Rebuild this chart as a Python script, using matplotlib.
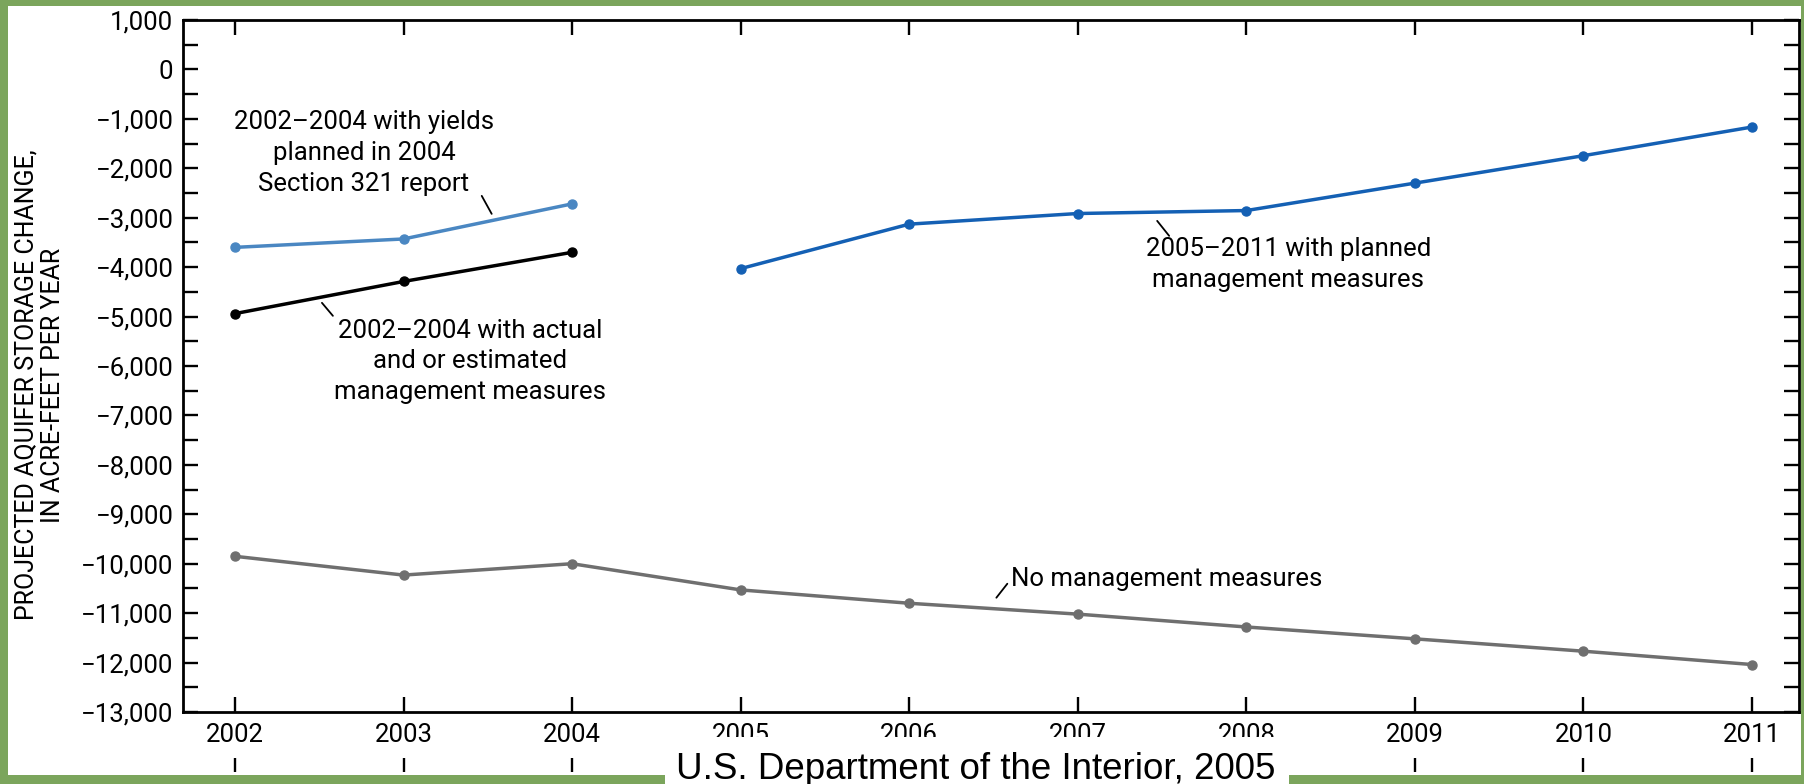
import matplotlib
matplotlib.use("Agg")
import matplotlib.pyplot as plt
from matplotlib.patches import Rectangle
from matplotlib.ticker import FuncFormatter, MultipleLocator

# data (acre-feet per year)
years_early = [2002, 2003, 2004]
years_late = [2005, 2006, 2007, 2008, 2009, 2010, 2011]
years_all = years_early + years_late

yields_planned = [-3600, -3430, -2720]
actual_estimated = [-4940, -4290, -3700]
planned_measures = [-4030, -3130, -2915, -2855, -2300, -1745, -1165]
no_measures = [-9850, -10230, -10000, -10530, -10800, -11020, -11280, -11520, -11770, -12040]

green = "#7ba55c"
col_light = "#4a87c2"
col_dark = "#1460b4"
col_gray = "#6f6f6f"

plt.rcParams["font.family"] = ["Liberation Sans Narrow", "Roboto", "DejaVu Sans"]

W, H = 1804, 784
fig = plt.figure(figsize=(W / 100, H / 100), dpi=100, facecolor=green)

# white panel inside the green border
fig.patches.append(Rectangle((8 / W, 1 - 775 / H), (1801 - 8) / W, (775 - 6) / H,
                             transform=fig.transFigure, facecolor="white",
                             edgecolor="none", zorder=-5))

ax = fig.add_axes([183 / W, 1 - 712 / H, (1799 - 183) / W, (712 - 20) / H])
ax.set_facecolor("none")
ax.set_zorder(1)

kw = dict(lw=2.5, marker="o", markersize=6.5)
ax.plot(years_early, yields_planned, color=col_light, **kw)
ax.plot(years_early, actual_estimated, color="black", **kw)
ax.plot(years_late, planned_measures, color=col_dark, **kw)
ax.plot(years_all, no_measures, color=col_gray, **kw)

ax.set_xlim(2002 - 52 / 168.7, 2011 + 47 / 168.7)
ax.set_ylim(-13000, 1000)
ax.set_xticks(years_all)
ax.yaxis.set_major_locator(MultipleLocator(1000))
ax.yaxis.set_minor_locator(MultipleLocator(500))
ax.yaxis.set_major_formatter(FuncFormatter(lambda v, p: f"{int(v):,}".replace("-", "\u2212")))

for s in ax.spines.values():
    s.set_linewidth(2.0)
ax.tick_params(axis="both", which="both", direction="in", length=11, width=1.7,
               top=True, right=True, labelsize=18.5)
ax.tick_params(axis="y", pad=7)
ax.tick_params(axis="x", pad=8)

# small ticks below the year labels
sec = ax.secondary_xaxis(-0.067)
sec.set_xticks(years_all)
sec.set_xticklabels([])
sec.spines["bottom"].set_visible(False)
sec.tick_params(direction="out", length=10, width=1.7)

fig.text(40 / W, 1 - 385 / H, "PROJECTED AQUIFER STORAGE CHANGE,\nIN ACRE-FEET PER YEAR",
         rotation=90, ha="center", va="center", multialignment="center",
         fontsize=18, linespacing=1.15)

tk = dict(fontsize=18.5, ha="center", va="center", multialignment="center", linespacing=1.35)
ax.text(2002.765, -1690, "2002\u20132004 with yields\nplanned in 2004\nSection 321 report", **tk)
ax.text(2003.393, -5905, "2002\u20132004 with actual\nand or estimated\nmanagement measures", **tk)
ax.text(2008.25, -3953, "2005\u20132011 with planned\nmanagement measures", **tk)
ax.text(2007.525, -10300, "No management measures", **tk)

lead = dict(arrowstyle="-", color="black", lw=1.3, shrinkA=0, shrinkB=0)
ax.annotate("", xy=(2003.523, -2922), xytext=(2003.464, -2558), arrowprops=lead)
ax.annotate("", xy=(2002.581, -4985), xytext=(2002.516, -4722), arrowprops=lead)
ax.annotate("", xy=(2007.542, -3367), xytext=(2007.471, -3064), arrowprops=lead)
ax.annotate("", xy=(2006.517, -10688), xytext=(2006.582, -10405), arrowprops=lead)

# credit box
fig.patches.append(Rectangle((665 / W, 0), (1289 - 665) / W, (784 - 737) / H,
                             transform=fig.transFigure, facecolor="white",
                             edgecolor="none", zorder=5))
fig.text(976 / W, 1 - 779 / H, "U.S. Department of the Interior, 2005",
         family="Liberation Sans", fontsize=26.5, ha="center", va="baseline", zorder=6)

fig.savefig("out.png", dpi=100, facecolor=green)
